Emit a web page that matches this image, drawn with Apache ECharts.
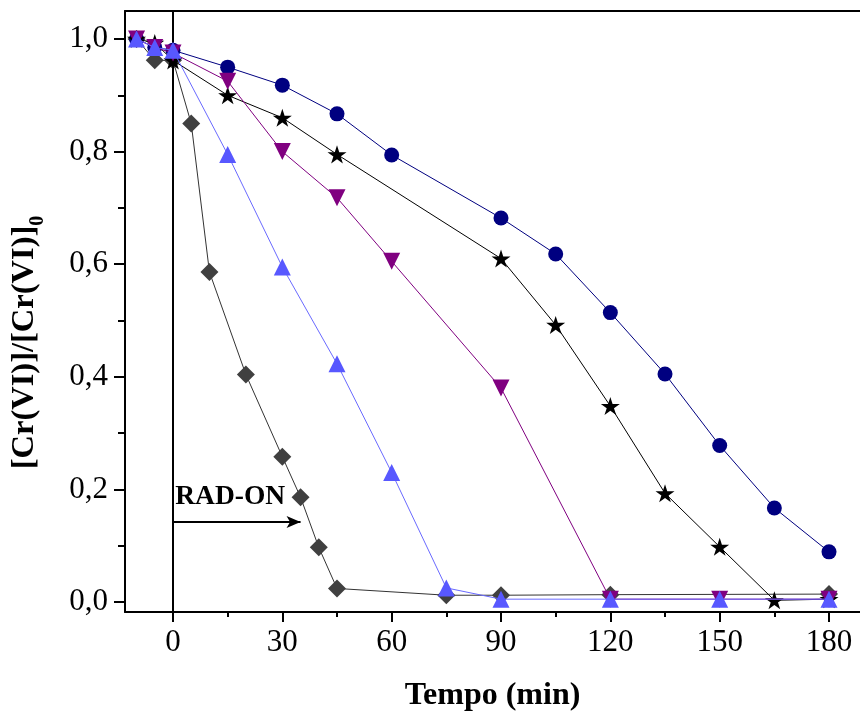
<!DOCTYPE html>
<html>
<head>
<meta charset="utf-8">
<script src="https://cdn.jsdelivr.net/npm/echarts@6/dist/echarts.min.js"></script>
<style>
html,body{margin:0;padding:0;background:#fff;}
#chart{width:860px;height:717px;}
</style>
</head>
<body>
<div id="chart"></div>
<script>
// Time axis (min) for each series
const tCirc = [-10, -5, 0, 15, 30, 45, 60, 90, 105, 120, 135, 150, 165, 180];
const vCirc = [1.0, 0.985, 0.98, 0.95, 0.918, 0.867, 0.794, 0.682, 0.618, 0.514, 0.405, 0.278, 0.167, 0.089];

const tStar = [-10, -5, 0, 15, 30, 45, 90, 105, 120, 135, 150, 165, 180];
const vStar = [1.0, 0.993, 0.962, 0.90, 0.86, 0.795, 0.61, 0.492, 0.348, 0.193, 0.098, 0.003, 0.005];

const tDown = [-10, -5, 0, 15, 30, 45, 60, 90, 120, 150, 180];
const vDown = [1.0, 0.985, 0.975, 0.925, 0.80, 0.718, 0.605, 0.38, 0.005, 0.005, 0.005];

const tUp = [-10, -5, 0, 15, 30, 45, 60, 75, 90, 120, 150, 180];
const vUp = [1.0, 0.985, 0.98, 0.795, 0.595, 0.423, 0.23, 0.025, 0.005, 0.005, 0.005, 0.005];

const tDiam = [-10, -5, 0, 5, 10, 20, 30, 35, 40, 45, 75, 90, 120, 180];
const vDiam = [1.0, 0.962, 0.962, 0.85, 0.586, 0.404, 0.258, 0.186, 0.097, 0.024, 0.012, 0.012, 0.013, 0.014];

// Axis ticks
const xMajor = [0, 30, 60, 90, 120, 150, 180];
const xMinor = [15, 45, 75, 105, 135, 165];
const yMajor = [0, 0.2, 0.4, 0.6, 0.8, 1.0];
const yMinor = [0.1, 0.3, 0.5, 0.7, 0.9];

const X_MIN = -13.17, X_MAX = 188.5;
const Y_MIN = -0.0178, Y_MAX = 1.0497;

const pairs = (t, v) => t.map((x, i) => [x, v[i]]);
const starPath = 'path://M50,0L61.2,34.5L97.6,34.5L68.2,55.9L79.4,90.5L50,69.1L20.6,90.5L31.8,55.9L2.4,34.5L38.8,34.5Z';
const serif = '"Liberation Serif", "Times New Roman", serif';

const chart = echarts.init(document.getElementById('chart'), null, {renderer: 'canvas'});

function xAxisBase(extra) {
  return Object.assign({
    type: 'value', min: X_MIN, max: X_MAX, splitLine: {show: false}
  }, extra);
}
function yAxisBase(extra) {
  return Object.assign({
    type: 'value', min: Y_MIN, max: Y_MAX, splitLine: {show: false}
  }, extra);
}

const option = {
  backgroundColor: '#fff',
  animation: false,
  grid: {left: 125, right: 0, top: 11, bottom: 105, containLabel: false, outerBoundsMode: 'none'},
  xAxis: [
    xAxisBase({
      position: 'bottom',
      axisLine: {show: true, onZero: false, lineStyle: {color: '#000', width: 2}},
      axisTick: {show: true, length: 10, inside: false, customValues: xMajor, lineStyle: {color: '#000', width: 2}},
      axisLabel: {show: true, customValues: xMajor, color: '#000', fontFamily: serif, fontSize: 31, margin: 15},
      name: 'Tempo (min)', nameLocation: 'middle', nameGap: 68,
      nameTextStyle: {color: '#000', fontFamily: serif, fontSize: 32, fontWeight: 'bold'}
    }),
    xAxisBase({
      position: 'bottom',
      axisLine: {show: false, onZero: false},
      axisTick: {show: true, length: 5, customValues: xMinor, lineStyle: {color: '#000', width: 2}},
      axisLabel: {show: false}
    }),
    xAxisBase({
      position: 'top',
      axisLine: {show: true, onZero: false, lineStyle: {color: '#000', width: 2}},
      axisTick: {show: false},
      axisLabel: {show: false}
    })
  ],
  yAxis: [
    yAxisBase({
      position: 'left',
      axisLine: {show: true, onZero: false, lineStyle: {color: '#000', width: 2}},
      axisTick: {show: true, length: 11, customValues: yMajor, lineStyle: {color: '#000', width: 2}},
      axisLabel: {show: true, customValues: yMajor, color: '#000', fontFamily: serif, fontSize: 31, margin: 17,
        formatter: v => v.toFixed(1).replace('.', ',')},
      name: '{a|[Cr(VI)]/[Cr(VI)]}{s|0}', nameLocation: 'middle', nameRotate: 90, nameGap: 77,
      nameTextStyle: {
        padding: [0, 62, 0, 0],
        rich: {
          a: {fontFamily: serif, fontSize: 32.5, fontWeight: 'bold', color: '#000', lineHeight: 46, verticalAlign: 'middle'},
          s: {fontFamily: serif, fontSize: 20, fontWeight: 'bold', color: '#000', lineHeight: 25, verticalAlign: 'bottom'}
        }
      }
    }),
    yAxisBase({
      position: 'left',
      axisLine: {show: false, onZero: false},
      axisTick: {show: true, length: 7, customValues: yMinor, lineStyle: {color: '#000', width: 2}},
      axisLabel: {show: false}
    })
  ],
  series: [
    {
      name: 'diamonds', type: 'line', data: pairs(tDiam, vDiam), z: 2,
      symbol: 'diamond', symbolSize: [18, 18],
      lineStyle: {color: '#333', width: 1},
      itemStyle: {color: '#404040'},
      markLine: {
        silent: true, symbol: ['none', 'none'], animation: false,
        lineStyle: {color: '#000', width: 2, type: 'solid'},
        label: {show: false},
        data: [{xAxis: 0}]
      }
    },
    {
      name: 'circles', type: 'line', data: pairs(tCirc, vCirc), z: 3,
      symbol: 'circle', symbolSize: 15,
      lineStyle: {color: '#000080', width: 1},
      itemStyle: {color: '#000080'}
    },
    {
      name: 'stars', type: 'line', data: pairs(tStar, vStar), z: 4,
      symbol: starPath, symbolSize: 19, symbolKeepAspect: true,
      lineStyle: {color: '#000', width: 1},
      itemStyle: {color: '#000'}
    },
    {
      name: 'down', type: 'line', data: pairs(tDown, vDown), z: 5,
      symbol: 'triangle', symbolRotate: 180, symbolSize: 17,
      lineStyle: {color: '#800080', width: 1},
      itemStyle: {color: '#800080'}
    },
    {
      name: 'up', type: 'line', data: pairs(tUp, vUp), z: 6,
      symbol: 'triangle', symbolSize: 17,
      lineStyle: {color: '#6a6aff', width: 1},
      itemStyle: {color: '#5858ff'},
      markLine: {
        silent: true, symbol: ['none', 'arrow'], symbolSize: [9, 14], animation: false,
        lineStyle: {color: '#000', width: 2, type: 'solid'},
        label: {show: false},
        data: [[{coord: [0, 0.142]}, {coord: [35, 0.142]}]]
      },
      markPoint: {
        silent: true, symbol: 'circle', symbolSize: 0, animation: false,
        label: {show: true, position: 'right', distance: 0, formatter: 'RAD-ON',
          color: '#000', fontFamily: serif, fontSize: 27.5, fontWeight: 'bold'},
        data: [{coord: [0.6, 0.187]}]
      }
    }
  ]
};

chart.setOption(option);
</script>
</body>
</html>
